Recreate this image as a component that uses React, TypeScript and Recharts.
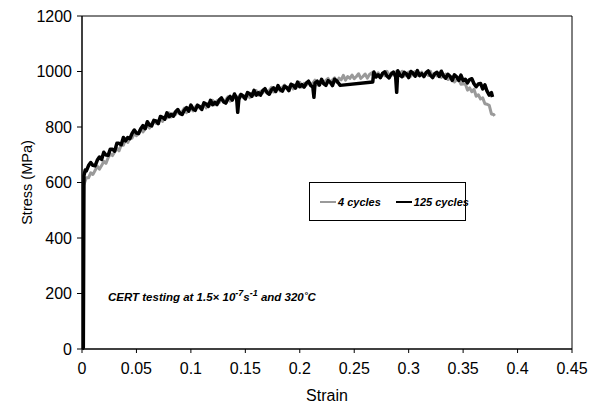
import React from "react";
import {
  Legend,
  Line,
  LineChart,
  ReferenceLine,
  XAxis,
  YAxis,
} from "recharts";

const FONT = "'Liberation Sans', Arial, sans-serif";

const strainTicks = [0, 0.05, 0.1, 0.15, 0.2, 0.25, 0.3, 0.35, 0.4, 0.45];
const stressTicks = [0, 200, 400, 600, 800, 1000, 1200];

// 4 cycles: [strain, stress MPa]
const cycles4: [number, number][] = [
  [0, 0], [0.0008, 300], [0.0015, 590],
  [0.004, 617], [0.006, 617], [0.008, 635], [0.01, 629], [0.012, 643], [0.014, 659], [0.016, 648], [0.018, 661], [0.02, 676], [0.022, 669],
  [0.024, 689], [0.026, 703], [0.028, 697], [0.03, 710], [0.032, 724], [0.034, 714], [0.036, 735], [0.038, 734], [0.04, 756], [0.042, 744],
  [0.044, 762], [0.046, 760], [0.048, 777], [0.05, 769], [0.052, 781], [0.054, 795], [0.056, 782], [0.058, 793], [0.06, 806], [0.062, 796],
  [0.064, 812], [0.066, 823], [0.068, 813], [0.07, 822], [0.072, 833], [0.074, 820], [0.076, 837], [0.078, 833], [0.08, 851], [0.082, 836],
  [0.084, 850], [0.086, 845], [0.088, 858], [0.09, 847], [0.092, 856], [0.094, 868], [0.096, 852], [0.098, 861], [0.1, 871], [0.102, 858],
  [0.104, 872], [0.106, 880], [0.108, 868], [0.11, 875], [0.112, 884], [0.114, 869], [0.116, 885], [0.118, 879], [0.12, 896], [0.122, 880],
  [0.124, 894], [0.126, 888], [0.128, 901], [0.13, 889], [0.132, 898], [0.134, 909], [0.136, 893], [0.138, 901], [0.14, 911], [0.142, 897],
  [0.144, 911], [0.146, 919], [0.148, 906], [0.15, 913], [0.152, 921], [0.154, 906], [0.156, 921], [0.158, 915], [0.16, 931], [0.162, 915],
  [0.164, 929], [0.166, 923], [0.168, 935], [0.17, 923], [0.172, 932], [0.174, 943], [0.176, 926], [0.178, 934], [0.18, 944], [0.182, 930],
  [0.184, 943], [0.186, 951], [0.188, 938], [0.19, 944], [0.192, 952], [0.194, 937], [0.196, 952], [0.198, 945], [0.2, 961], [0.202, 944],
  [0.204, 957], [0.206, 951], [0.208, 963], [0.21, 950], [0.212, 958], [0.214, 969], [0.216, 952], [0.218, 959], [0.22, 968], [0.222, 955],
  [0.224, 968], [0.226, 975], [0.228, 962], [0.23, 969], [0.232, 977], [0.234, 961], [0.236, 976], [0.238, 970], [0.24, 986], [0.242, 969],
  [0.244, 982], [0.246, 975], [0.248, 987], [0.25, 974], [0.252, 982], [0.254, 992], [0.256, 975], [0.258, 982], [0.26, 991], [0.262, 976],
  [0.264, 989], [0.266, 995], [0.268, 982], [0.27, 987], [0.272, 995], [0.274, 978], [0.276, 993], [0.278, 985], [0.28, 1001], [0.282, 983],
  [0.284, 995], [0.286, 987], [0.288, 999], [0.29, 985], [0.292, 992], [0.294, 1001], [0.296, 984], [0.298, 990], [0.3, 998], [0.302, 983],
  [0.304, 995], [0.306, 1000], [0.308, 986], [0.31, 991], [0.312, 998], [0.314, 980], [0.316, 994], [0.318, 986], [0.32, 1001], [0.322, 982],
  [0.324, 993], [0.326, 984], [0.328, 994], [0.33, 979], [0.332, 984], [0.334, 991], [0.336, 971], [0.338, 975], [0.34, 981], [0.342, 962],
  [0.344, 970], [0.346, 972], [0.348, 954], [0.35, 955], [0.352, 956], [0.354, 933], [0.356, 941], [0.358, 927], [0.36, 936], [0.362, 911],
  [0.364, 916], [0.366, 901], [0.368, 905], [0.37, 884], [0.372, 882], [0.374, 878], [0.376, 847], [0.378, 845], [0.379, 840],
];

// 125 cycles: [strain, stress MPa]; no data recorded between 0.237 and 0.267
const cycles125: [number, number][] = [
  [0, 0], [0.0012, 5], [0.0018, 625], [0.003, 645],
  [0.004, 642], [0.006, 661], [0.008, 672], [0.01, 662], [0.012, 660], [0.014, 680], [0.016, 692], [0.018, 683], [0.02, 709], [0.022, 699],
  [0.024, 698], [0.026, 720], [0.028, 720], [0.03, 713], [0.032, 741], [0.034, 741], [0.036, 736], [0.038, 762], [0.04, 750], [0.042, 762],
  [0.044, 758], [0.046, 777], [0.048, 789], [0.05, 778], [0.052, 776], [0.054, 794], [0.056, 805], [0.058, 794], [0.06, 819], [0.062, 807],
  [0.064, 804], [0.066, 824], [0.068, 822], [0.07, 812], [0.072, 838], [0.074, 835], [0.076, 828], [0.078, 851], [0.08, 837], [0.082, 846],
  [0.084, 839], [0.086, 855], [0.088, 863], [0.09, 849], [0.092, 845], [0.094, 861], [0.096, 870], [0.098, 857], [0.1, 879], [0.102, 865],
  [0.104, 860], [0.106, 878], [0.108, 874], [0.11, 863], [0.112, 887], [0.114, 883], [0.116, 874], [0.118, 896], [0.12, 880], [0.122, 889],
  [0.124, 881], [0.126, 897], [0.128, 905], [0.13, 891], [0.132, 886], [0.134, 902], [0.136, 910], [0.138, 897], [0.14, 919], [0.142, 904],
  [0.143, 853],
  [0.144, 899], [0.146, 917], [0.148, 912], [0.15, 901], [0.152, 924], [0.154, 920], [0.156, 910], [0.158, 932], [0.16, 915], [0.162, 924],
  [0.164, 915], [0.166, 931], [0.168, 938], [0.17, 924], [0.172, 918], [0.174, 934], [0.176, 941], [0.178, 928], [0.18, 949], [0.182, 935],
  [0.184, 929], [0.186, 947], [0.188, 942], [0.19, 931], [0.192, 954], [0.194, 950], [0.196, 940], [0.198, 962], [0.2, 945], [0.202, 953],
  [0.204, 944], [0.206, 958], [0.208, 965], [0.21, 950], [0.212, 944], [0.213, 907], [0.214, 958], [0.216, 965], [0.218, 951], [0.22, 972],
  [0.222, 956], [0.224, 950], [0.226, 967], [0.228, 961], [0.23, 949], [0.232, 972], [0.234, 966], [0.236, 956], [0.237, 950],
  [0.267, 962],
  [0.268, 998], [0.27, 980], [0.272, 988], [0.274, 978], [0.276, 993], [0.278, 999], [0.28, 984], [0.282, 977], [0.284, 991], [0.286, 998],
  [0.288, 983], [0.289, 925], [0.29, 1003], [0.292, 987], [0.294, 981], [0.296, 997], [0.298, 991], [0.3, 978], [0.302, 1000], [0.304, 994],
  [0.306, 983], [0.308, 1003], [0.31, 985], [0.312, 992], [0.314, 982], [0.316, 996], [0.318, 1002], [0.32, 986], [0.322, 978], [0.324, 992],
  [0.326, 997], [0.328, 982], [0.33, 1001], [0.332, 984], [0.334, 976], [0.336, 990], [0.338, 983], [0.34, 968], [0.342, 988], [0.344, 981],
  [0.346, 968], [0.348, 987], [0.35, 967], [0.352, 972], [0.354, 959], [0.356, 971], [0.358, 974], [0.36, 956], [0.362, 945], [0.364, 955],
  [0.366, 957], [0.368, 937], [0.37, 952], [0.372, 929], [0.374, 915], [0.376, 924], [0.377, 908],
];

const series = [
  { name: "4 cycles", color: "#9a9a9a", width: 3, points: cycles4 },
  { name: "125 cycles", color: "#000000", width: 3.5, points: cycles125 },
];

function LegendBox() {
  return (
    <div
      style={{
        width: 155,
        height: 37,
        border: "1px solid #000",
        background: "#fff",
        display: "flex",
        alignItems: "center",
        fontFamily: FONT,
        fontSize: 11,
        fontWeight: "bold",
        fontStyle: "italic",
        color: "#000",
        whiteSpace: "nowrap",
      }}
    >
      {series.map((s, i) => (
        <div
          key={s.name}
          style={{ display: "flex", alignItems: "center", marginLeft: i === 0 ? 10 : 15 }}
        >
          <span style={{ display: "inline-block", width: 16, height: 2, background: s.color, marginRight: 2 }} />
          <span>{s.name}</span>
        </div>
      ))}
    </div>
  );
}

export default function App() {
  return (
    <div style={{ position: "absolute", left: 0, top: 0, width: 604, height: 406, background: "#fff" }}>
      <LineChart
        width={604}
        height={406}
        margin={{ top: 16, right: 32, bottom: 0, left: 0 }}
      >
        <XAxis
          type="number"
          dataKey="strain"
          domain={[0, 0.45]}
          ticks={strainTicks}
          allowDataOverflow
          height={57}
          tickSize={4}
          tickMargin={10}
          axisLine={{ stroke: "#000", strokeWidth: 1.5 }}
          tickLine={{ stroke: "#000" }}
          tick={{ fill: "#000", fontSize: 16, fontFamily: FONT }}
          label={{ value: "Strain", position: "insideBottom", offset: 5, fill: "#000", fontSize: 16, fontFamily: FONT }}
        />
        <YAxis
          type="number"
          domain={[0, 1200]}
          ticks={stressTicks}
          width={82}
          tickSize={5}
          tickMargin={5}
          axisLine={{ stroke: "#000", strokeWidth: 1.5 }}
          tickLine={{ stroke: "#000" }}
          tick={{ fill: "#000", fontSize: 16, fontFamily: FONT }}
          label={{
            position: "insideLeft",
            content: (p: any) => {
              const vb = p.viewBox || { x: 0, y: 16, width: 82, height: 333 };
              const cx = vb.x + 27;
              const cy = vb.y + vb.height / 2;
              return (
                <text
                  x={cx}
                  y={cy}
                  transform={`rotate(-90 ${cx} ${cy})`}
                  textAnchor="middle"
                  dominantBaseline="central"
                  fill="#000"
                  fontSize={14.5}
                  fontFamily={FONT}
                >
                  Stress (MPa)
                </text>
              );
            },
          }}
        />
        <ReferenceLine y={1200} stroke="#000" strokeWidth={1} />
        <ReferenceLine x={0.45} stroke="#000" strokeWidth={1} />
        {series.map((s) => (
          <Line
            key={s.name}
            name={s.name}
            data={s.points.map(([strain, stress]) => ({ strain, stress }))}
            dataKey="stress"
            type="linear"
            stroke={s.color}
            strokeWidth={s.width}
            strokeLinejoin="round"
            dot={false}
            activeDot={false}
            isAnimationActive={false}
          />
        ))}
        <Legend
          layout="vertical"
          align="center"
          verticalAlign="middle"
          content={() => <LegendBox />}
          wrapperStyle={{ position: "absolute", left: 309, top: 182, width: 157, height: 39 }}
        />
      </LineChart>
      <div
        style={{
          position: "absolute",
          left: 108,
          top: 285,
          fontFamily: FONT,
          fontSize: 11.5,
          fontWeight: "bold",
          fontStyle: "italic",
          color: "#000",
          whiteSpace: "nowrap",
          lineHeight: "16px",
        }}
      >
        CERT testing at 1.5× 10
        <sup style={{ fontSize: 9, verticalAlign: 5 }}>-7</sup>s
        <sup style={{ fontSize: 9, verticalAlign: 5 }}>-1</sup> and 320˚C
      </div>
    </div>
  );
}
